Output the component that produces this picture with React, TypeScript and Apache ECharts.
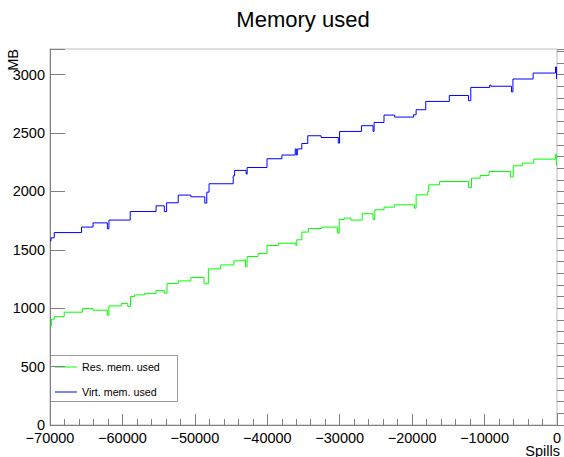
import React, { useEffect, useRef } from "react";
import * as echarts from "echarts";

const titleText = "Memory used";
const xName = "Spills";
const yName = "MB";
const seriesNames = ["Res. mem. used", "Virt. mem. used"];
const seriesColors = ["#00ff00", "#0000ff"];

// Virtual memory (blue) step points
const virtX = [-70000, -69862, -69410, -65647, -64055, -62078, -61859, -58922, -55354, -54214, -53898, -52292, -50549, -48628, -48353, -48038, -44703, -44510, -42918, -42781, -40036, -37977, -36138, -35990, -35850, -35232, -34409, -32570, -30195, -30016, -26997, -25391, -25254, -23882, -22413, -19805, -19448, -18117, -14864, -12215, -11900, -9292, -9127, -6272, -6080, -3294, -206, -69, 0];
const virtY = [1577, 1603, 1648, 1695, 1731, 1680, 1755, 1828, 1877, 1828, 1903, 1969, 1954, 1900, 1994, 2066, 2134, 2180, 2149, 2205, 2280, 2312, 2364, 2312, 2364, 2411, 2477, 2462, 2414, 2514, 2563, 2514, 2591, 2654, 2637, 2657, 2700, 2771, 2822, 2777, 2891, 2910, 2901, 2852, 2963, 3014, 3066, 2963, 2963];

// Resident memory (green) step points
const resX = [-70000, -69767, -69410, -68038, -65512, -64055, -62078, -61859, -60158, -59252, -58882, -58333, -56960, -55354, -54214, -53843, -52292, -50549, -48724, -48134, -46432, -44606, -43234, -43001, -42781, -41271, -40036, -38430, -36056, -35918, -35232, -34313, -32487, -30291, -30058, -29372, -28452, -26901, -25391, -25158, -23882, -22413, -19668, -19448, -17843, -17705, -16236, -12215, -11804, -10609, -9374, -6410, -6039, -4804, -3198, -206, -137, -69, 0];
const resY = [849, 906, 928, 966, 997, 983, 940, 1020, 1040, 1014, 1100, 1114, 1125, 1151, 1129, 1211, 1234, 1263, 1209, 1337, 1371, 1406, 1414, 1357, 1443, 1468, 1537, 1557, 1537, 1586, 1652, 1683, 1695, 1643, 1760, 1772, 1755, 1809, 1760, 1843, 1866, 1886, 1857, 1971, 2000, 2057, 2085, 2034, 2114, 2137, 2171, 2123, 2220, 2243, 2277, 2286, 2323, 2223, 2223];

const xMin = -70000;
const xMax = 0;
const xStep = 10000;
const yMin = 0;
const yMax = 3220;
const yStep = 500;
const yMinorStep = 100;

const FONT = "Liberation Sans, Arial, Helvetica, sans-serif";

export default function App() {
  const ref = useRef<HTMLDivElement>(null);
  useEffect(() => {
    if (!ref.current) return;
    document.body.style.margin = "0";
    const chart = echarts.init(ref.current, null, { renderer: "svg" });
    const zip = (xs: number[], ys: number[]) => xs.map((x, i) => [x, ys[i]]);
    const axisGray = "#7f7f7f";
    const legendX = 50;
    const legendY = 355;
    const legendRows = [367, 392];
    chart.setOption({
      animation: false,
      textStyle: { fontFamily: FONT },
      grid: {
        left: 50,
        right: 4,
        top: 49,
        bottom: 32,
        show: true,
        borderColor: "#bdbdbd",
        borderWidth: 1,
        backgroundColor: "transparent",
      },
      xAxis: {
        type: "value",
        min: xMin,
        max: xMax,
        interval: xStep,
        splitLine: { show: false },
        axisLine: { show: true, onZero: false, lineStyle: { color: axisGray, width: 1 } },
        axisTick: { show: true, inside: true, length: 11, lineStyle: { color: axisGray } },
        minorTick: { show: true, splitNumber: 5, length: 6, lineStyle: { color: axisGray } },
        axisLabel: {
          color: "#000",
          fontFamily: FONT,
          fontSize: 14.5,
          margin: 5,
          formatter: (v: number) => String(v).replace("-", "\u2212"),
        },
      },
      yAxis: [
        {
          type: "value",
          position: "left",
          min: yMin,
          max: yMax,
          interval: yStep,
          splitLine: { show: false },
          axisLine: { show: true, onZero: false, lineStyle: { color: axisGray, width: 1 } },
          axisTick: { show: true, inside: true, length: 15, lineStyle: { color: axisGray } },
          axisLabel: {
            color: "#000",
            fontFamily: FONT,
            fontSize: 14.5,
            margin: 5,
            formatter: (v: number) => (v % yStep === 0 ? String(v) : ""),
          },
        },
        {
          type: "value",
          position: "left",
          min: yMin,
          max: yMax,
          interval: yMinorStep,
          splitLine: { show: false },
          axisLine: { show: false },
          axisTick: { show: true, inside: true, length: 7.5, lineStyle: { color: axisGray } },
          axisLabel: { show: false },
        },
      ],
      graphic: [
        {
          type: "text",
          x: 303,
          y: 19,
          style: {
            text: titleText,
            fontFamily: FONT,
            fontSize: 22,
            fill: "#000",
            textAlign: "center",
            textVerticalAlign: "middle",
          },
        },
        {
          type: "text",
          x: 560,
          y: 451,
          style: {
            text: xName,
            fontFamily: FONT,
            fontSize: 14.5,
            fill: "#000",
            textAlign: "right",
            textVerticalAlign: "middle",
          },
        },
        {
          type: "text",
          x: 13,
          y: 49,
          rotation: Math.PI / 2,
          style: {
            text: yName,
            fontFamily: FONT,
            fontSize: 14.5,
            fill: "#000",
            textAlign: "right",
            textVerticalAlign: "middle",
          },
        },
        {
          type: "group",
          z: 100,
          children: [
            {
              type: "rect",
              shape: { x: legendX + 0.5, y: legendY + 0.5, width: 127, height: 46 },
              style: { fill: "#fff", stroke: "#9a9a9a", lineWidth: 1 },
            },
            ...seriesNames.flatMap((name, i) => [
              {
                type: "line",
                shape: { x1: legendX + 5, y1: legendRows[i], x2: legendX + 27, y2: legendRows[i] },
                style: { stroke: seriesColors[i], lineWidth: 1 },
              },
              {
                type: "text",
                x: legendX + 32,
                y: legendRows[i],
                style: {
                  text: name,
                  fontFamily: FONT,
                  fontSize: 10.7,
                  fill: "#000",
                  textAlign: "left",
                  textVerticalAlign: "middle",
                },
              },
            ]),
          ],
        },
      ],
      series: [
        {
          name: seriesNames[0],
          type: "line",
          step: "end",
          symbol: "none",
          data: zip(resX, resY),
          lineStyle: { color: seriesColors[0], width: 1 },
          itemStyle: { color: seriesColors[0] },
          z: 3,
        },
        {
          name: seriesNames[1],
          type: "line",
          step: "end",
          symbol: "none",
          data: zip(virtX, virtY),
          lineStyle: { color: seriesColors[1], width: 1 },
          itemStyle: { color: seriesColors[1] },
          z: 3,
        },
      ],
    });
    return () => chart.dispose();
  }, []);
  return <div ref={ref} style={{ width: 564, height: 457 }} />;
}
